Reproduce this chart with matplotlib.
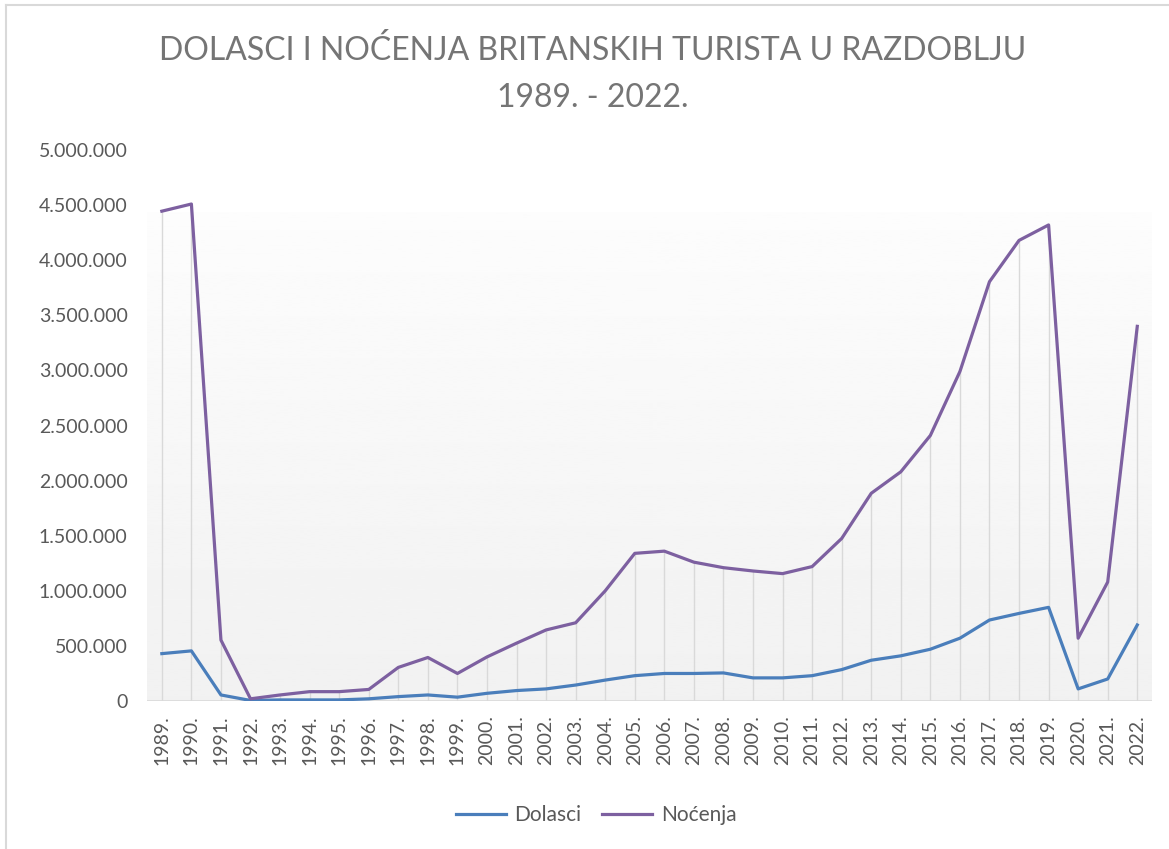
import numpy as np
import matplotlib.pyplot as plt
from matplotlib.ticker import FuncFormatter

plt.rcParams['font.family'] = ['Lato', 'DejaVu Sans']

years = [str(y) + '.' for y in range(1989, 2023)]

dolasci = [430000, 455000, 55000, 5000, 10000, 10000, 10000, 20000, 40000, 55000,
           35000, 70000, 95000, 110000, 145000, 190000, 230000, 250000, 250000, 255000,
           210000, 210000, 230000, 285000, 370000, 410000, 470000, 570000, 735000, 795000,
           850000, 110000, 200000, 690000]

nocenja = [4445000, 4510000, 553000, 20000, 55000, 85000, 85000, 105000, 305000, 395000,
           250000, 400000, 525000, 645000, 710000, 1000000, 1340000, 1360000, 1260000, 1210000,
           1180000, 1156000, 1220000, 1475000, 1885000, 2080000, 2410000, 2990000, 3805000, 4180000,
           4320000, 570000, 1080000, 3400000]

text_col = '#595959'
x = np.arange(len(years))

fig = plt.figure(figsize=(11.69, 8.49), dpi=100)
ax = fig.add_axes([0.1258, 0.1743, 0.8597, 0.649])

# light gray gradient, only over the lower part of the plot area (like Excel)
grad = np.linspace(0.99, 0.945, 256).reshape(-1, 1)
ax.imshow(grad, extent=[0, 1, 0, 0.887], transform=ax.transAxes, cmap='gray',
          vmin=0, vmax=1, aspect='auto', zorder=0)

# drop lines
ax.vlines(x, 0, nocenja, color='#d9d9d9', linewidth=1, zorder=1)
ax.axhline(0, color='#d9d9d9', linewidth=1.2, zorder=1)

ax.plot(x, dolasci, color='#4a7ebb', linewidth=2.3, label='Dolasci', zorder=3)
ax.plot(x, nocenja, color='#7d60a0', linewidth=2.3, label='Noćenja', zorder=3)

ax.set_xlim(-0.5, len(years) - 0.5)
ax.set_ylim(0, 5000000)
ax.set_yticks(np.arange(0, 5000001, 500000))
ax.yaxis.set_major_formatter(FuncFormatter(lambda v, p: f'{int(v):,}'.replace(',', '.')))
ax.set_xticks(x)
ax.set_xticklabels(years, rotation=90)
ax.tick_params(axis='both', length=0, labelsize=14, colors=text_col)
ax.tick_params(axis='x', pad=10)
ax.tick_params(axis='y', pad=14)
for s in ax.spines.values():
    s.set_visible(False)

fig.text(0.507, 0.94, 'DOLASCI I NOĆENJA BRITANSKIH TURISTA U RAZDOBLJU',
         ha='center', va='center', fontsize=23, color='#757575')
fig.text(0.507, 0.885, '1989. - 2022.', ha='center', va='center',
         fontsize=23, color='#757575')

fig.legend(loc='center', bbox_to_anchor=(0.51, 0.04), ncol=2, frameon=False,
           fontsize=15, labelcolor=text_col, handlelength=2.4, handletextpad=0.4,
           columnspacing=1.0)

# border on top and left only (screenshot edge of the chart frame)
fig.add_artist(plt.Line2D([0.005, 0.005], [0.0, 0.994], transform=fig.transFigure,
                          color='#d9d9d9', linewidth=1.5))
fig.add_artist(plt.Line2D([0.005, 1.0], [0.994, 0.994], transform=fig.transFigure,
                          color='#d9d9d9', linewidth=1.5))

fig.savefig('out.png', dpi=100)
